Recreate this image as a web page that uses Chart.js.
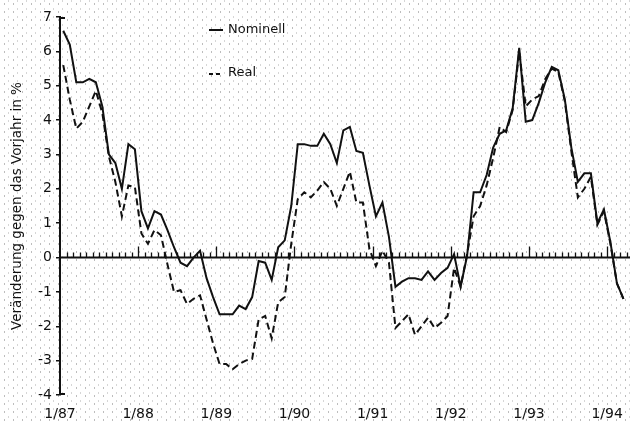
<!DOCTYPE html>
<html>
<head>
<meta charset="utf-8">
<script src="https://cdn.jsdelivr.net/npm/chart.js@4"></script>
<style>
  html, body { margin: 0; padding: 0; background: #fff; }
  body {
    width: 630px; height: 423px; overflow: hidden;
    /* Rasterpunkte wie im gescannten Original */
    background-image:
      radial-gradient(circle, rgba(0,0,0,.26) 0.6px, transparent 1.1px),
      radial-gradient(circle, rgba(0,0,0,.16) 0.6px, transparent 1.1px);
    background-size: 9px 8px, 9px 8px;
    background-position: 0 0, 4px 5px;
  }
</style>
</head>
<body>
<canvas id="chart" width="630" height="423"></canvas>
<script>
// Monatswerte 1/87 bis 3/94, Veränderung gegen Vorjahr in %
const yearLabels = ['1/87', '1/88', '1/89', '1/90', '1/91', '1/92', '1/93', '1/94'];

const nominell = [
  6.6, 6.2, 5.1, 5.1, 5.2, 5.1, 4.4, 3.0, 2.75, 2.0, 3.3, 3.15,
  1.35, 0.85, 1.35, 1.25, 0.8, 0.3, -0.15, -0.25, 0.0, 0.2, -0.6, -1.15,
  -1.65, -1.65, -1.65, -1.4, -1.5, -1.15, -0.1, -0.15, -0.65, 0.3, 0.5, 1.5,
  3.3, 3.3, 3.25, 3.25, 3.6, 3.3, 2.75, 3.7, 3.8, 3.1, 3.05, 2.1,
  1.2, 1.6, 0.6, -0.85, -0.7, -0.6, -0.6, -0.65, -0.4, -0.65, -0.45, -0.3,
  0.1, -0.85, 0.05, 1.9, 1.9, 2.4, 3.2, 3.6, 3.7, 4.35, 6.1, 3.95,
  4.0, 4.5, 5.1, 5.55, 5.45, 4.6, 3.2, 2.2, 2.45, 2.45, 1.0, 1.4,
  0.45, -0.75, -1.2
];

const real = [
  5.6, 4.6, 3.75, 3.95, 4.4, 4.85, 4.2, 2.95, 2.2, 1.2, 2.1, 2.05,
  0.7, 0.4, 0.8, 0.65, -0.2, -1.0, -0.95, -1.35, -1.2, -1.1, -1.8, -2.5,
  -3.1, -3.1, -3.25, -3.1, -3.0, -2.95, -1.8, -1.7, -2.35, -1.3, -1.15, 0.4,
  1.7, 1.9, 1.75, 1.95, 2.2, 2.0, 1.5, 2.0, 2.5, 1.6, 1.6, 0.25,
  -0.25, 0.2, -0.15, -2.05, -1.85, -1.65, -2.25, -2.0, -1.75, -2.05, -1.9, -1.7,
  -0.3, -0.85, 0.1, 1.2, 1.5, 2.1, 2.9, 3.8, 3.65, 4.3, 6.0, 4.4,
  4.6, 4.7, 5.2, 5.5, 5.4, 4.55, 3.1, 1.75, 2.0, 2.35, 0.95, 1.35,
  0.4, -0.75, -1.2
];

const ink = '#111';
Chart.defaults.font.family = '"DejaVu Sans", sans-serif';
Chart.defaults.color = ink;

// Werte jeweils zur Monatsmitte
const toPoints = (arr) => arr.map((v, i) => ({ x: i + 0.5, y: v }));

// Nulllinie mit Monats- und Jahresstrichen
const zeroAxis = {
  id: 'zeroAxis',
  beforeDatasetsDraw(chart) {
    const { ctx, scales: { x, y }, chartArea } = chart;
    const y0 = y.getPixelForValue(0);
    ctx.save();
    ctx.strokeStyle = ink;
    ctx.lineWidth = 2;
    ctx.beginPath();
    ctx.moveTo(chartArea.left, y0);
    ctx.lineTo(chart.width, y0);
    ctx.stroke();
    ctx.lineWidth = 1.3;
    ctx.beginPath();
    for (let m = 1; m <= x.max; m++) {
      const px = Math.round(x.getPixelForValue(m)) + 0.5;
      const h = m % 12 === 0 ? 11 : 5;
      ctx.moveTo(px, y0);
      ctx.lineTo(px, y0 - h);
    }
    ctx.stroke();
    // kleine Haken oben und unten an der y-Achse
    ctx.lineWidth = 2;
    ctx.beginPath();
    ctx.moveTo(chartArea.left, y.getPixelForValue(7) + 1);
    ctx.lineTo(chartArea.left + 5, y.getPixelForValue(7) + 1);
    ctx.moveTo(chartArea.left, y.getPixelForValue(-4) - 1);
    ctx.lineTo(chartArea.left + 5, y.getPixelForValue(-4) - 1);
    ctx.stroke();
    ctx.restore();
  }
};

// Legende im Diagramm
const innerLegend = {
  id: 'innerLegend',
  afterDraw(chart) {
    const { ctx } = chart;
    ctx.save();
    ctx.strokeStyle = ink;
    ctx.fillStyle = ink;
    ctx.lineWidth = 2;
    ctx.font = '13px "DejaVu Sans", sans-serif';
    ctx.textBaseline = 'middle';
    ctx.beginPath();
    ctx.moveTo(209, 30); ctx.lineTo(223, 30);
    ctx.stroke();
    ctx.fillText('Nominell', 228, 30);
    ctx.setLineDash([4, 3]);
    ctx.beginPath();
    ctx.moveTo(209, 74); ctx.lineTo(223, 74);
    ctx.stroke();
    ctx.setLineDash([]);
    ctx.fillText('Real', 228, 73);
    ctx.restore();
  }
};

new Chart(document.getElementById('chart'), {
  type: 'line',
  data: {
    datasets: [
      { label: 'Nominell', data: toPoints(nominell), borderColor: ink, borderWidth: 2, pointRadius: 0, tension: 0 },
      { label: 'Real', data: toPoints(real), borderColor: ink, borderWidth: 2, borderDash: [7, 4], pointRadius: 0, tension: 0 }
    ]
  },
  options: {
    responsive: false,
    animation: false,
    layout: { padding: { top: 17, right: 2, left: 0, bottom: 0 } },
    plugins: { legend: { display: false }, tooltip: { enabled: false } },
    scales: {
      x: {
        type: 'linear', min: 0, max: 87.2,
        afterBuildTicks(s) { s.ticks = yearLabels.map((_, i) => ({ value: i * 12 })); },
        ticks: { autoSkip: false, maxRotation: 0, font: { size: 14 }, padding: 3, callback: (v) => yearLabels[v / 12] },
        grid: { display: false },
        border: { display: false },
        afterFit(s) { s.height = 28; }
      },
      y: {
        min: -4, max: 7,
        ticks: { stepSize: 1, font: { size: 14 }, padding: 4 },
        grid: { drawOnChartArea: false, tickLength: 4, color: ink, lineWidth: 1.5 },
        border: { display: true, color: ink, width: 2 },
        title: { display: true, text: 'Veränderung gegen das Vorjahr in %', font: { size: 13.5 }, padding: { top: 9, bottom: 0 } },
        afterFit(s) { s.width = 60; }
      }
    }
  },
  plugins: [zeroAxis, innerLegend]
});
</script>
</body>
</html>
